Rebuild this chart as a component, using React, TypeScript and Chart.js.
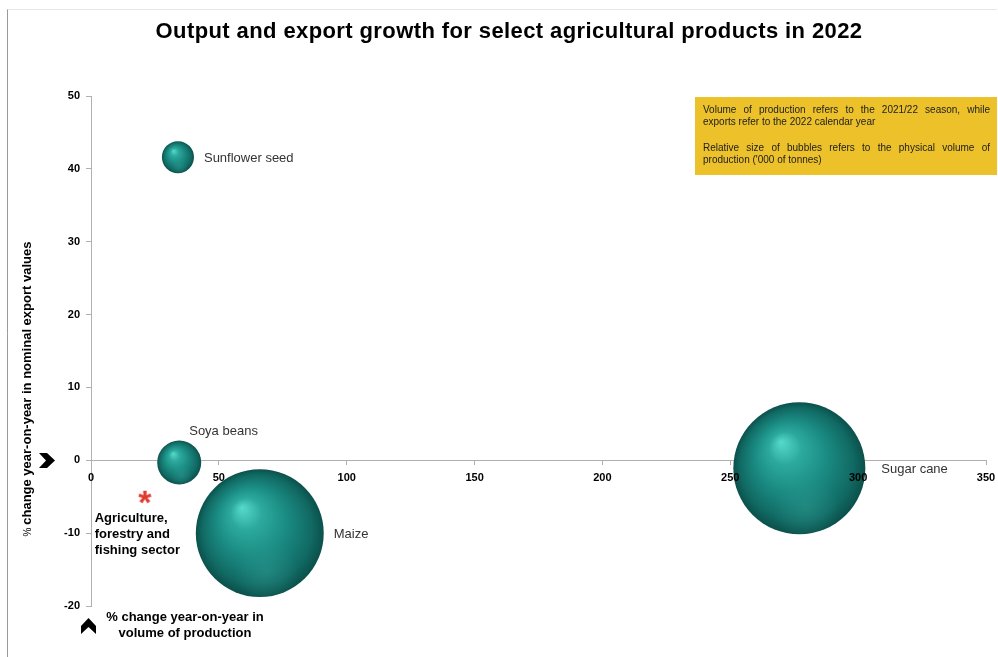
import { useEffect, useRef } from 'react';
import { Chart, registerables } from 'chart.js';

Chart.register(...registerables);

// ---------- data ----------
const chartTitle = 'Output and export growth for select agricultural products in 2022';
const products = ['Sunflower seed', 'Soya beans', 'Maize', 'Sugar cane'];
const productionGrowth = [34, 34.5, 66, 277]; // % y/y change in volume of production
const exportGrowth = [41.6, -0.3, -10, -1.1]; // % y/y change in nominal export values
const productionVolume = [1060, 2000, 16900, 18000]; // '000 tonnes (bubble size)
const sectorName = ['Agriculture,', 'forestry and', 'fishing sector'];
const sectorProductionGrowth = [21];
const sectorExportGrowth = [-5];
const xTickRange = [0, 350, 50]; // min, max, step
const yTickRange = [-20, 50, 10];
const yAxisTitle = ['%', 'change year-on-year in nominal export values'];
const xAxisTitle = ['% change year-on-year in', 'volume of production'];
const noteLines = [
  'Volume of production refers to the 2021/22 season, while',
  'exports refer to the 2022 calendar year',
  '',
  'Relative size of bubbles refers to the physical volume of',
  "production ('000 of tonnes)",
];

// ---------- styles ----------
const FONT = '"Liberation Sans", Arial, Helvetica, sans-serif';
const MAX_BUBBLE_RADIUS = 66;
const maxVolume = Math.max(...productionVolume);

function bubbleRadius(v: number) {
  return MAX_BUBBLE_RADIUS * Math.sqrt(v / maxVolume);
}

function makeAsterisk(): HTMLCanvasElement {
  const size = 22;
  const cv = document.createElement('canvas');
  cv.width = size;
  cv.height = size;
  const c = cv.getContext('2d')!;
  c.fillStyle = '#e03a2f';
  c.font = `bold 34px ${FONT}`;
  c.textAlign = 'center';
  c.textBaseline = 'alphabetic';
  const m = c.measureText('*');
  const asc = m.actualBoundingBoxAscent;
  const desc = m.actualBoundingBoxDescent;
  c.fillText('*', size / 2, size / 2 + (asc - desc) / 2);
  return cv;
}

function drawJustified(ctx: CanvasRenderingContext2D, text: string, x: number, y: number, width: number) {
  const words = text.split(' ');
  const total = words.reduce((s, w) => s + ctx.measureText(w).width, 0);
  const gap = (width - total) / (words.length - 1);
  let cx = x;
  for (const w of words) {
    ctx.fillText(w, cx, y);
    cx += ctx.measureText(w).width + gap;
  }
}

function chevron(ctx: CanvasRenderingContext2D, cx: number, cy: number, up: boolean) {
  const pts = [
    [-8, -7.5],
    [0, -7.5],
    [8, 0],
    [0, 7.5],
    [-8, 7.5],
    [-1, 0],
  ];
  ctx.beginPath();
  pts.forEach(([px, py], i) => {
    const x = up ? cx + py : cx + px;
    const y = up ? cy - px : cy + py;
    if (i === 0) ctx.moveTo(x, y);
    else ctx.lineTo(x, y);
  });
  ctx.closePath();
  ctx.fillStyle = '#000';
  ctx.fill();
}

const decorPlugin = {
  id: 'decor',
  beforeDraw(chart: any) {
    const ctx: CanvasRenderingContext2D = chart.ctx;
    ctx.save();
    ctx.fillStyle = '#ffffff';
    ctx.fillRect(0, 0, chart.width, chart.height);
    ctx.lineWidth = 1;
    ctx.strokeStyle = '#e6e6e6';
    ctx.beginPath();
    ctx.moveTo(7, 9.5);
    ctx.lineTo(997, 9.5);
    ctx.stroke();
    ctx.strokeStyle = '#9a9a9a';
    ctx.beginPath();
    ctx.moveTo(7.5, 9.5);
    ctx.lineTo(7.5, 657);
    ctx.stroke();
    ctx.restore();
  },
  afterDatasetsDraw(chart: any) {
    const ctx: CanvasRenderingContext2D = chart.ctx;
    const meta = chart.getDatasetMeta(0);
    ctx.save();
    // soft bottom reflection on each sphere
    meta.data.forEach((el: any, i: number) => {
      const r = bubbleRadius(productionVolume[i]);
      ctx.save();
      ctx.beginPath();
      ctx.arc(el.x, el.y, r, 0, Math.PI * 2);
      ctx.clip();
      const g = ctx.createRadialGradient(el.x + 0.1 * r, el.y + 0.6 * r, 0, el.x + 0.1 * r, el.y + 0.6 * r, 0.5 * r);
      g.addColorStop(0, 'rgba(50,160,150,0.4)');
      g.addColorStop(1, 'rgba(50,160,150,0)');
      ctx.fillStyle = g;
      ctx.fillRect(el.x - r, el.y - r, 2 * r, 2 * r);
      ctx.restore();
    });
    // bubble labels
    ctx.fillStyle = '#333333';
    ctx.font = `13px ${FONT}`;
    ctx.textBaseline = 'middle';
    ctx.textAlign = 'left';
    meta.data.forEach((el: any, i: number) => {
      const r = bubbleRadius(productionVolume[i]);
      if (i === 1) {
        ctx.fillText(products[i], el.x + 10, el.y - 31);
      } else {
        ctx.fillText(products[i], el.x + r + (i === 3 ? 16 : 10), el.y + 1);
      }
    });
    // sector label
    const smeta = chart.getDatasetMeta(1);
    const sp = smeta.data[0];
    ctx.fillStyle = '#000';
    ctx.font = `bold 13px ${FONT}`;
    sectorName.forEach((t, i) => ctx.fillText(t, sp.x - 50, sp.y + 22 + i * 16));
    ctx.restore();
  },
  afterDraw(chart: any) {
    const ctx: CanvasRenderingContext2D = chart.ctx;
    ctx.save();
    // title
    ctx.fillStyle = '#000';
    ctx.font = `bold 22px ${FONT}`;
    (ctx as any).letterSpacing = '0.4px';
    ctx.textAlign = 'center';
    ctx.textBaseline = 'middle';
    ctx.fillText(chartTitle, 509, 32);
    (ctx as any).letterSpacing = '0px';

    // note box
    ctx.fillStyle = '#ecc12a';
    ctx.fillRect(695, 97, 302, 78);
    ctx.fillStyle = '#222';
    ctx.font = `10px ${FONT}`;
    ctx.textAlign = 'left';
    ctx.textBaseline = 'middle';
    const ys = [110, 122, 135, 148, 160];
    noteLines.forEach((t, i) => {
      if (!t) return;
      if (i === 0 || i === 3) drawJustified(ctx, t, 703, ys[i], 287);
      else ctx.fillText(t, 703, ys[i]);
    });

    // y axis title
    ctx.save();
    ctx.translate(27, 389);
    ctx.rotate(-Math.PI / 2);
    ctx.fillStyle = '#000';
    ctx.textBaseline = 'middle';
    ctx.font = `10px ${FONT}`;
    const w0 = ctx.measureText(yAxisTitle[0] + ' ').width;
    ctx.font = `bold 13px ${FONT}`;
    const w1 = ctx.measureText(yAxisTitle[1]).width;
    const start = -(w0 + w1) / 2;
    ctx.textAlign = 'left';
    ctx.font = `10px ${FONT}`;
    ctx.fillText(yAxisTitle[0], start, 1);
    ctx.font = `bold 13px ${FONT}`;
    ctx.fillText(yAxisTitle[1], start + w0, 0);
    ctx.restore();

    // x axis title
    ctx.fillStyle = '#000';
    ctx.textAlign = 'center';
    ctx.textBaseline = 'middle';
    ctx.font = `bold 13px ${FONT}`;
    ctx.fillText(xAxisTitle[0], 185, 617);
    ctx.fillText(xAxisTitle[1], 185, 633);

    // axis chevrons
    chevron(ctx, 47, 460.5, false);
    chevron(ctx, 88.5, 626, true);
    ctx.restore();
  },
};

const tickFont = { family: FONT, size: 11, weight: 'bold' as const };

export default function App() {
  const ref = useRef<HTMLCanvasElement | null>(null);

  useEffect(() => {
    if (!ref.current) return;
    const asterisk = makeAsterisk();
    const chart = new Chart(ref.current, {
      type: 'bubble',
      data: {
        datasets: [
          {
            label: 'Products',
            data: products.map((_, i) => ({
              x: productionGrowth[i],
              y: exportGrowth[i],
              r: bubbleRadius(productionVolume[i]),
            })),
            borderWidth: 0,
            hoverRadius: 0,
            hoverBorderWidth: 0,
            clip: false as any,
            backgroundColor: (c: any) => {
              const chart = c.chart;
              const raw = c.raw;
              if (!raw || !chart.chartArea) return '#1a8c82';
              const cx = chart.scales.x.getPixelForValue(raw.x);
              const cy = chart.scales.y.getPixelForValue(raw.y);
              const r = raw.r;
              const g = chart.ctx.createRadialGradient(cx - 0.28 * r, cy - 0.4 * r, 0, cx, cy, r);
              g.addColorStop(0, '#56dacb');
              g.addColorStop(0.25, '#2ca99d');
              g.addColorStop(0.55, '#1a8b82');
              g.addColorStop(0.85, '#116a64');
              g.addColorStop(1, '#0b504b');
              return g;
            },
          } as any,
          {
            type: 'scatter',
            label: 'Agriculture, forestry and fishing sector',
            data: sectorProductionGrowth.map((x, i) => ({ x, y: sectorExportGrowth[i] })),
            pointStyle: asterisk,
            pointRadius: 8,
            clip: false as any,
          } as any,
        ],
      },
      options: {
        animation: false,
        responsive: true,
        maintainAspectRatio: false,
        events: [],
        layout: { autoPadding: false, padding: { left: 31, top: 96, right: 12, bottom: 51 } },
        plugins: {
          legend: { display: false },
          tooltip: { enabled: false },
          title: { display: false },
        },
        scales: {
          x: {
            type: 'linear',
            min: xTickRange[0],
            max: xTickRange[1],
            position: { y: 0 } as any,
            afterFit: (s: any) => {
              s.paddingLeft = 0;
              s.paddingRight = 0;
            },
            ticks: {
              stepSize: xTickRange[2],
              color: '#000',
              padding: 7,
              maxRotation: 0,
              font: tickFont,
              z: 1,
            } as any,
            grid: { drawOnChartArea: false, drawTicks: true, tickLength: 4, color: '#b0b0b0' },
            border: { color: '#b0b0b0' },
          },
          y: {
            type: 'linear',
            min: yTickRange[0],
            max: yTickRange[1],
            position: 'left',
            afterFit: (s: any) => {
              s.width = 60;
            },
            ticks: {
              stepSize: yTickRange[2],
              color: '#000',
              padding: 6,
              font: tickFont,
            },
            grid: { drawOnChartArea: false, drawTicks: true, tickLength: 5, color: '#b0b0b0' },
            border: { color: '#b0b0b0' },
          },
        },
      },
      plugins: [decorPlugin],
    });
    return () => chart.destroy();
  }, []);

  return (
    <div style={{ position: 'absolute', left: 0, top: 0, width: 998, height: 657, background: '#fff' }}>
      <canvas ref={ref} />
    </div>
  );
}
